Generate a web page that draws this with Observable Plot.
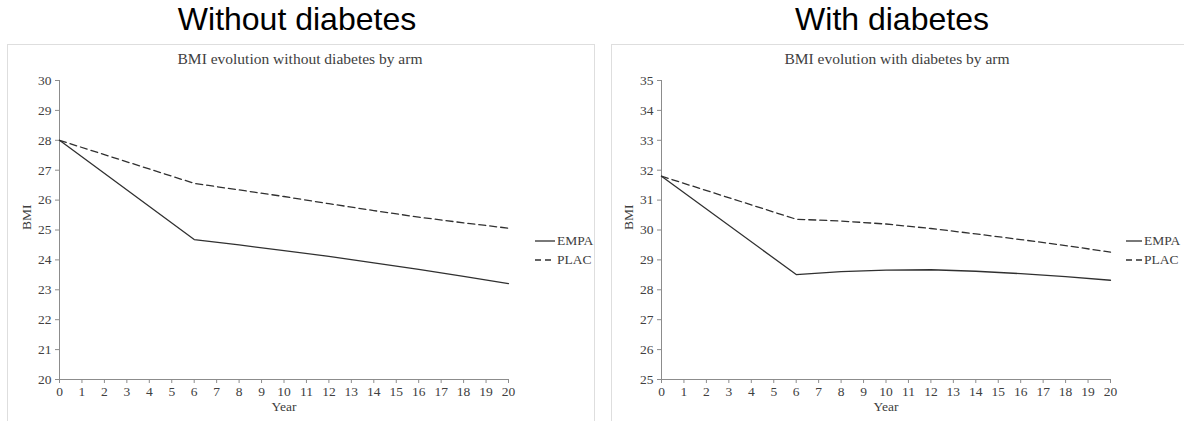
<!DOCTYPE html>
<html>
<head>
<meta charset="utf-8">
<script src="https://cdn.jsdelivr.net/npm/d3@7"></script>
<script src="https://cdn.jsdelivr.net/npm/@observablehq/plot@0.6"></script>
<style>
  html, body { margin: 0; padding: 0; background: #fff; }
  body { width: 1184px; height: 421px; overflow: hidden; position: relative; }
  .ptitle { position: absolute; top: 1px; font-family: "Liberation Sans", Arial, sans-serif; font-size: 32px; color: #000; text-align: center; white-space: nowrap; }
  .box { position: absolute; top: 44px; height: 400px; border: 1px solid #dedede; box-sizing: border-box; }
  .sub { position: absolute; top: 50px; font-family: "Liberation Serif", serif; font-size: 15.5px; color: #404040; text-align: center; white-space: nowrap; }
  .plot { position: absolute; top: 66px; }
  .legend { position: absolute; font-family: "Liberation Serif", serif; font-size: 13.5px; color: #404040; white-space: nowrap; }
  .legend div { height: 19px; display: flex; align-items: center; }
  .legend svg { margin-right: 2px; }
</style>
</head>
<body>
<div class="ptitle" style="left:0;width:594px;">Without diabetes</div>
<div class="ptitle" style="left:600px;width:584px;">With diabetes</div>
<div class="box" style="left:7px;width:588px;"></div>
<div class="box" style="left:611px;width:600px;"></div>
<div class="sub" style="left:0;width:600px;">BMI evolution without diabetes by arm</div>
<div class="sub" style="left:600px;width:594px;">BMI evolution with diabetes by arm</div>
<div id="left" class="plot" style="left:0;"></div>
<div id="right" class="plot" style="left:600px;"></div>
<script>
const years = [0, 6, 8, 10, 12, 14, 16, 18, 20];
const arms = ["EMPA", "PLAC"];
const noDiabEMPA = [28.0, 24.68, 24.5, 24.31, 24.12, 23.9, 23.68, 23.45, 23.21];
const noDiabPLAC = [28.0, 26.56, 26.34, 26.12, 25.88, 25.65, 25.43, 25.24, 25.06];
const diabEMPA = [31.8, 28.51, 28.61, 28.66, 28.67, 28.62, 28.54, 28.44, 28.32];
const diabPLAC = [31.8, 30.36, 30.3, 30.2, 30.05, 29.87, 29.68, 29.48, 29.26];
const xTicks = d3.range(0, 21);
const yTicksNo = d3.range(20, 31);
const yTicksDiab = d3.range(25, 36);

function rows(empa, plac) {
  const out = [];
  years.forEach((yr, i) => out.push({year: yr, bmi: empa[i], arm: arms[0]}));
  years.forEach((yr, i) => out.push({year: yr, bmi: plac[i], arm: arms[1]}));
  return out;
}

function makePlot(data, yTicks, width, marginLeft, marginRight) {
  const yDomain = [yTicks[0], yTicks[yTicks.length - 1]];
  return Plot.plot({
    width, height: 355,
    marginLeft, marginRight, marginTop: 14, marginBottom: 42,
    style: {fontFamily: "'Liberation Serif', serif", fontSize: "13.5px", color: "#404040", background: "transparent", overflow: "visible"},
    x: {domain: [0, 20], label: null},
    y: {domain: yDomain, label: null},
    marks: [
      Plot.axisX({ticks: xTicks, tickFormat: d => d, tickSize: 4, tickPadding: 3, stroke: "#8c8c8c", fill: "#404040", label: null}),
      Plot.axisY({ticks: yTicks, tickFormat: d => d, tickSize: 4, tickPadding: 4, stroke: "#8c8c8c", fill: "#404040", label: null}),
      Plot.ruleX([0], {stroke: "#8c8c8c"}),
      Plot.ruleY([yDomain[0]], {stroke: "#8c8c8c"}),
      Plot.line(data.filter(d => d.arm === arms[0]), {x: "year", y: "bmi", stroke: "#303030", strokeWidth: 1.3}),
      Plot.line(data.filter(d => d.arm === arms[1]), {x: "year", y: "bmi", stroke: "#303030", strokeWidth: 1.3, strokeDasharray: "7,4"}),
      Plot.text(["Year"], {frameAnchor: "bottom", dy: 31, fill: "#404040"}),
      Plot.text(["BMI"], {frameAnchor: "left", dx: -33, rotate: -90, fill: "#404040"})
    ]
  });
}

function legend(left, top, lineW) {
  const el = document.createElement("div");
  el.className = "legend";
  el.style.left = left + "px";
  el.style.top = top + "px";
  arms.forEach((a, i) => {
    const row = document.createElement("div");
    row.innerHTML = `<svg width="${lineW}" height="4"><line x1="0" x2="${lineW}" y1="2" y2="2" stroke="#303030" stroke-width="1.3" ${i ? 'stroke-dasharray="6,4"' : ''}/></svg><span>${a}</span>`;
    el.appendChild(row);
  });
  document.body.appendChild(el);
}

document.getElementById("left").appendChild(makePlot(rows(noDiabEMPA, noDiabPLAC), yTicksNo, 600, 59, 92));
document.getElementById("right").appendChild(makePlot(rows(diabEMPA, diabPLAC), yTicksDiab, 584, 61, 74));
legend(535, 231, 20);
legend(1126, 231, 16);
</script>
</body>
</html>
